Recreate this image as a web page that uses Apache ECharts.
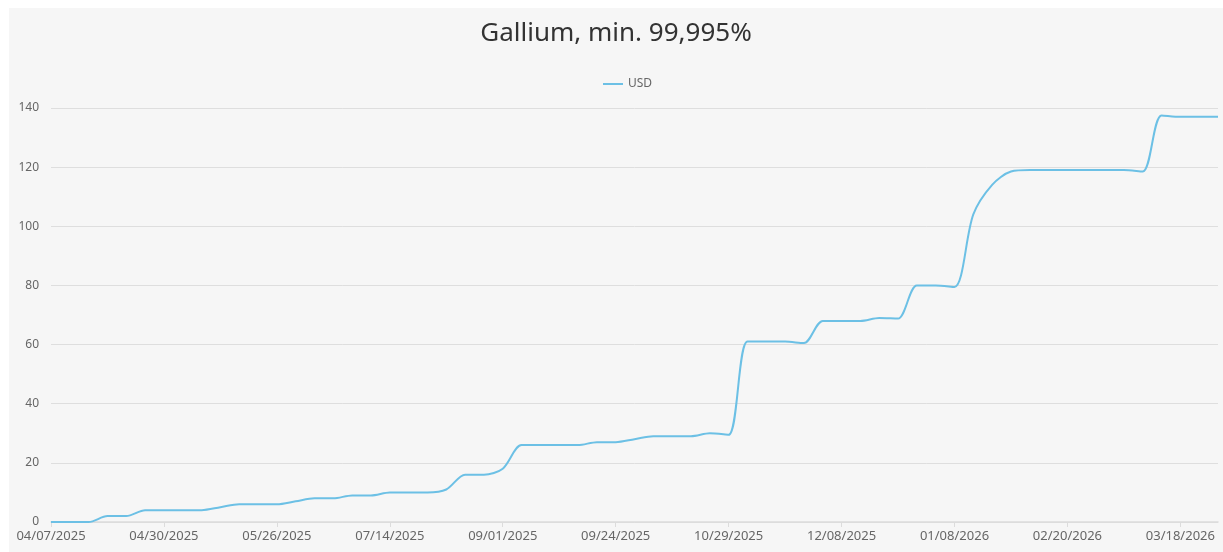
<!DOCTYPE html>
<html>
<head>
<meta charset="utf-8">
<title>Gallium, min. 99,995%</title>
<script src="https://cdn.jsdelivr.net/npm/echarts@6/dist/echarts.min.js"></script>
<style>
  html, body { margin: 0; padding: 0; background: #fff; }
  #chart { position: absolute; left: 9px; top: 8px; width: 1214px; height: 544px; }
</style>
</head>
<body>
<div id="chart"></div>
<script>
// dates (only every 6th one is printed on the axis)
var dates = [
  '04/07/2025', '04/10/2025', '04/14/2025', '04/17/2025', '04/22/2025', '04/25/2025',
  '04/30/2025', '05/05/2025', '05/08/2025', '05/13/2025', '05/16/2025', '05/21/2025',
  '05/26/2025', '06/02/2025', '06/10/2025', '06/17/2025', '06/24/2025', '07/03/2025',
  '07/14/2025', '07/21/2025', '07/29/2025', '08/06/2025', '08/15/2025', '08/25/2025',
  '09/01/2025', '09/04/2025', '09/08/2025', '09/11/2025', '09/16/2025', '09/19/2025',
  '09/24/2025', '09/30/2025', '10/09/2025', '10/14/2025', '10/17/2025', '10/23/2025',
  '10/29/2025', '11/04/2025', '11/10/2025', '11/17/2025', '11/24/2025', '12/01/2025',
  '12/08/2025', '12/12/2025', '12/17/2025', '12/22/2025', '12/29/2025', '01/02/2026',
  '01/08/2026', '01/15/2026', '01/21/2026', '01/27/2026', '02/02/2026', '02/09/2026',
  '02/20/2026', '02/24/2026', '02/27/2026', '03/04/2026', '03/09/2026', '03/12/2026',
  '03/18/2026', '03/24/2026', '03/31/2026'
]
// price in USD
var usd = [
  0, 0, 0, 2, 2, 4,
  4, 4, 4, 5, 6, 6,
  6, 7, 8, 8, 9, 9,
  10, 10, 10, 11, 16, 16,
  18, 26, 26, 26, 26, 27,
  27, 28, 29, 29, 29, 30,
  29.5, 61, 61, 61, 60.5, 68,
  68, 68, 69, 68.8, 80, 80,
  79.5, 104, 114, 118.5, 119, 119,
  119, 119, 119, 119, 118.5, 137.5,
  137, 137, 137
]
var yTicks = { min: 0, max: 140, step: 20 }

var chart = echarts.init(document.getElementById('chart'))
var font = "'Noto Sans', sans-serif"
var option = {
  backgroundColor: '#f6f6f6',
  animation: false,
  title: {
    text: 'Gallium, min. 99,995%',
    left: 'center',
    top: 8,
    textStyle: { fontFamily: font, fontSize: 26, fontWeight: 'normal', color: '#333' }
  },
  legend: {
    top: 65,
    left: 589,
    data: ['USD'],
    itemWidth: 20,
    itemHeight: 2,
    icon: 'rect',
    textStyle: { fontFamily: font, fontSize: 12, color: '#666' }
  },
  grid: { left: 42, right: 5, top: 100, bottom: 30 },
  xAxis: {
    type: 'category',
    boundaryGap: false,
    data: dates,
    axisLine: { lineStyle: { color: '#dcdcdc', width: 1.5 } },
    axisTick: { interval: 5, length: 5, lineStyle: { color: '#dcdcdc' } },
    axisLabel: { interval: 5, margin: 8, fontFamily: font, fontSize: 13, color: '#666' }
  },
  yAxis: {
    type: 'value',
    min: yTicks.min,
    max: yTicks.max,
    interval: yTicks.step,
    axisLine: { show: false },
    axisTick: { show: false },
    axisLabel: { margin: 12, fontFamily: font, fontSize: 12, color: '#666' },
    splitLine: { lineStyle: { color: '#dedede', width: 1 } }
  },
  series: [{
    name: 'USD',
    type: 'line',
    data: usd,
    smooth: 0.3,
    showSymbol: false,
    symbol: 'none',
    itemStyle: { color: '#6cc0e5' },
    lineStyle: { color: '#6cc0e5', width: 2 }
  }]
}
chart.setOption(option)
</script>
</body>
</html>
